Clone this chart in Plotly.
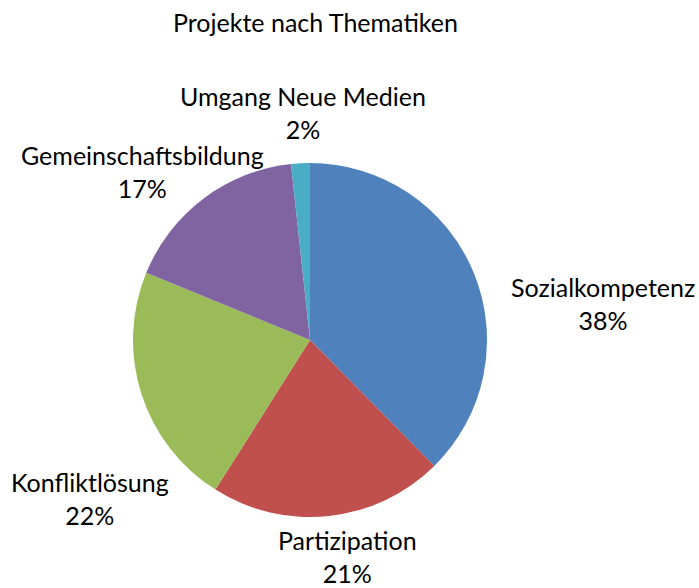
import plotly.graph_objects as go

categories = ["Sozialkompetenz", "Partizipation", "Konfliktlösung",
              "Gemeinschaftsbildung", "Umgang Neue Medien"]
values = [44, 25, 26, 20, 2]
colors = ["#4F81BD", "#C0504D", "#9BBB59", "#8064A2", "#4BACC6"]
title_text = "Projekte nach Thematiken"

W, H = 699, 588
FONT = "Lato"
FS = 25


def px2paper(x, y):
    return x / W, 1 - y / H


cx, cy, r = 310, 340, 177
x0, y1 = px2paper(cx - r, cy - r)
x1, y0 = px2paper(cx + r, cy + r)

fig = go.Figure(go.Pie(
    labels=categories,
    values=values,
    sort=False,
    direction="clockwise",
    rotation=0,
    marker=dict(colors=colors, line=dict(width=0)),
    textinfo="none",
    hoverinfo="label+percent",
    domain=dict(x=[x0, x1], y=[y0, y1]),
    showlegend=False,
))

total = sum(values)
label_pos = [(603, 303), (347, 556), (90, 498), (142, 171), (303, 112)]
for cat, v, (lx, ly) in zip(categories, values, label_pos):
    pct = round(100 * v / total)
    ax, ay = px2paper(lx, ly)
    fig.add_annotation(
        x=ax, y=ay, xref="paper", yref="paper",
        text=f"{cat}<br>{pct}%", showarrow=False,
        xanchor="center", yanchor="middle", align="center",
        font=dict(family=FONT, size=FS, color="#000000"),
    )

tx, ty = px2paper(315, 22)
fig.add_annotation(
    x=tx, y=ty, xref="paper", yref="paper",
    text=title_text, showarrow=False, xanchor="center", yanchor="middle",
    font=dict(family=FONT, size=FS, color="#000000"),
)

fig.update_layout(
    width=W, height=H,
    margin=dict(l=0, r=0, t=0, b=0),
    paper_bgcolor="white", plot_bgcolor="white",
)

fig.write_html(
    "out.html",
    config={"displayModeBar": False},
    post_script="document.body.style.margin='0';document.body.style.overflow='hidden';",
)
